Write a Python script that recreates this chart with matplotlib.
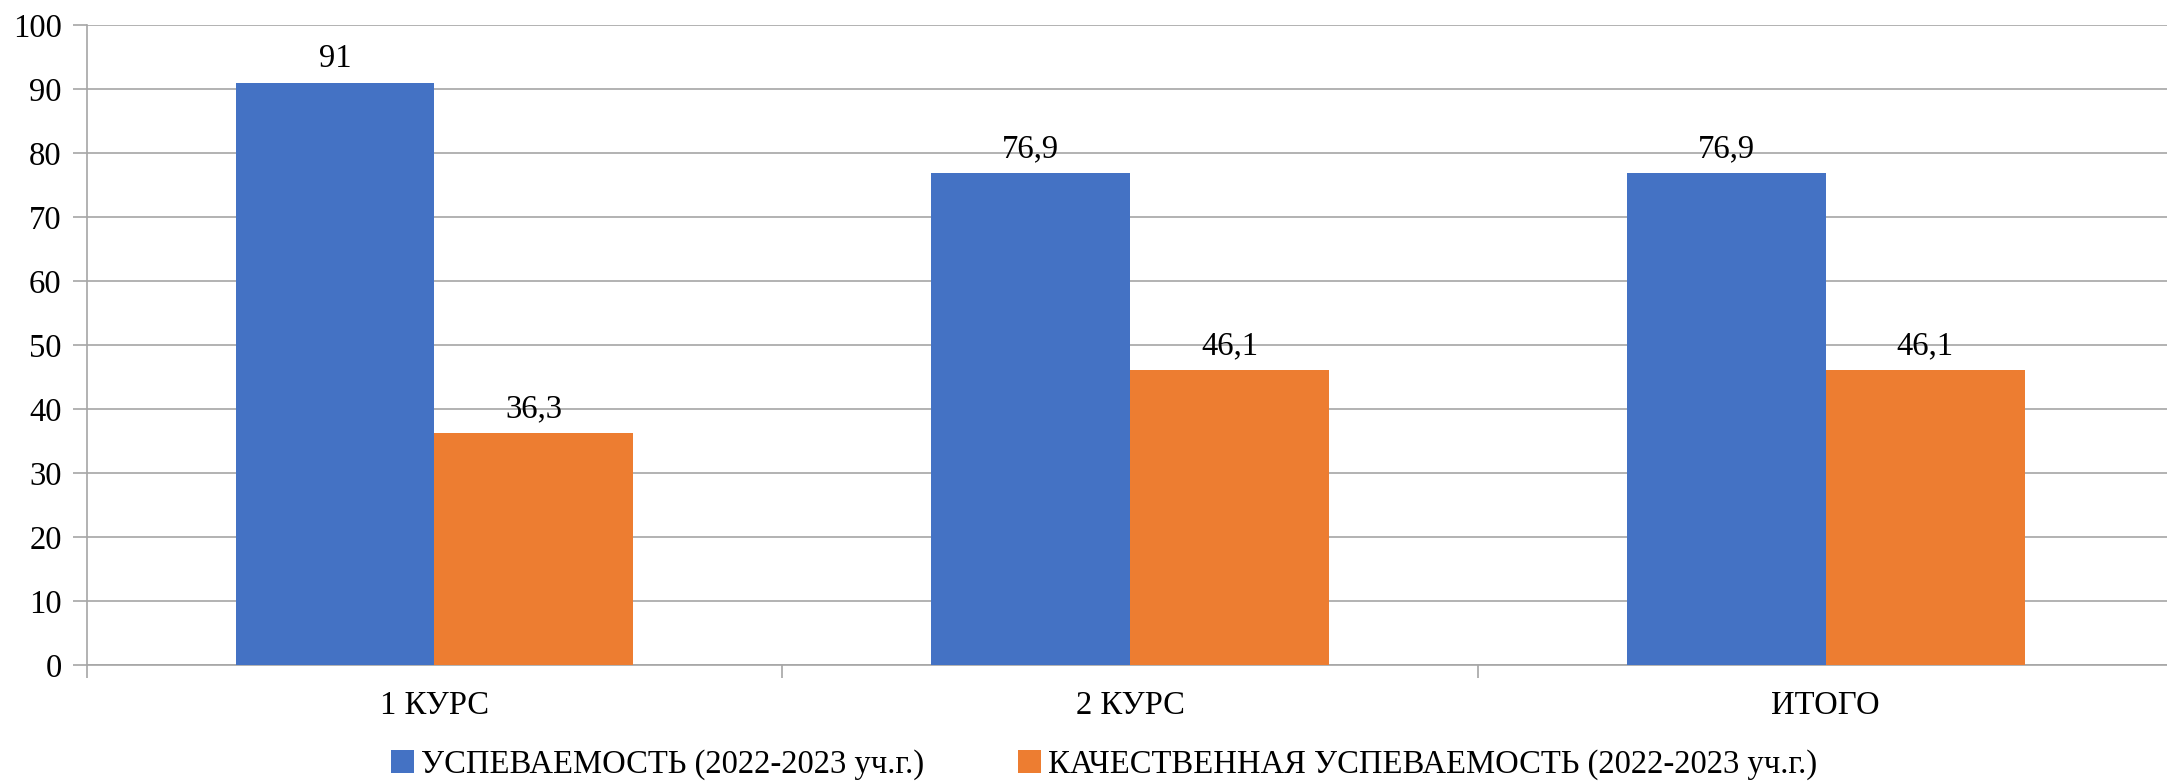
import numpy as np
import matplotlib.pyplot as plt
import matplotlib
matplotlib.rcParams['font.family'] = ['Liberation Serif', 'DejaVu Serif']
plt.rcParams.update({'font.size': 23.5})

categories = ["1 КУРС", "2 КУРС", "ИТОГО"]
uspev = [91, 76.9, 76.9]
kach = [36.3, 46.1, 46.1]
series_names = ["УСПЕВАЕМОСТЬ (2022-2023 уч.г.)",
                "КАЧЕСТВЕННАЯ УСПЕВАЕМОСТЬ (2022-2023 уч.г.)"]
colors = ["#4472C4", "#ED7D31"]

def fmt(v):
    return ("%g" % v).replace(".", ",")

fig = plt.figure(figsize=(21.67, 7.82), dpi=100)
ax = fig.add_axes([0.0400, 0.1496, 0.9630, 0.8184])

x = np.arange(len(categories))
w = 0.286
b1 = ax.bar(x - w/2, uspev, w, color=colors[0], label=series_names[0], zorder=3)
b2 = ax.bar(x + w/2, kach, w, color=colors[1], label=series_names[1], zorder=3)

for bars, vals in [(b1, uspev), (b2, kach)]:
    for r, v in zip(bars, vals):
        ax.annotate(fmt(v), (r.get_x() + r.get_width()/2, r.get_height()),
                    xytext=(0, 6), textcoords="offset points",
                    ha="center", va="bottom")

ax.set_xlim(-0.5, 2.5)
ax.set_ylim(0, 100)
ax.set_yticks(np.arange(0, 101, 10))
ax.yaxis.grid(True, color="#a6a6a6", linewidth=1.2, zorder=0)

ax.set_xticks([-0.5, 0.5, 1.5, 2.5])
ax.set_xticklabels([])
ax.set_xticks(x, minor=True)
ax.set_xticklabels(categories, minor=True)
ax.tick_params(axis="x", which="minor", length=0, pad=18)
ax.tick_params(axis="x", which="major", length=9, color="#a6a6a6", width=1.2)
ax.tick_params(axis="y", length=10, color="#a6a6a6", width=1.2, pad=8)

for s in ["top", "right"]:
    ax.spines[s].set_visible(False)
for s in ["left", "bottom"]:
    ax.spines[s].set_color("#a6a6a6")
    ax.spines[s].set_linewidth(1.2)

fig.legend(loc="center", bbox_to_anchor=(0.5095, 0.022), ncol=2, frameon=False,
           handlelength=0.7, handleheight=0.7, handletextpad=0.2, columnspacing=2.9)

plt.savefig("out.png", dpi=100)
